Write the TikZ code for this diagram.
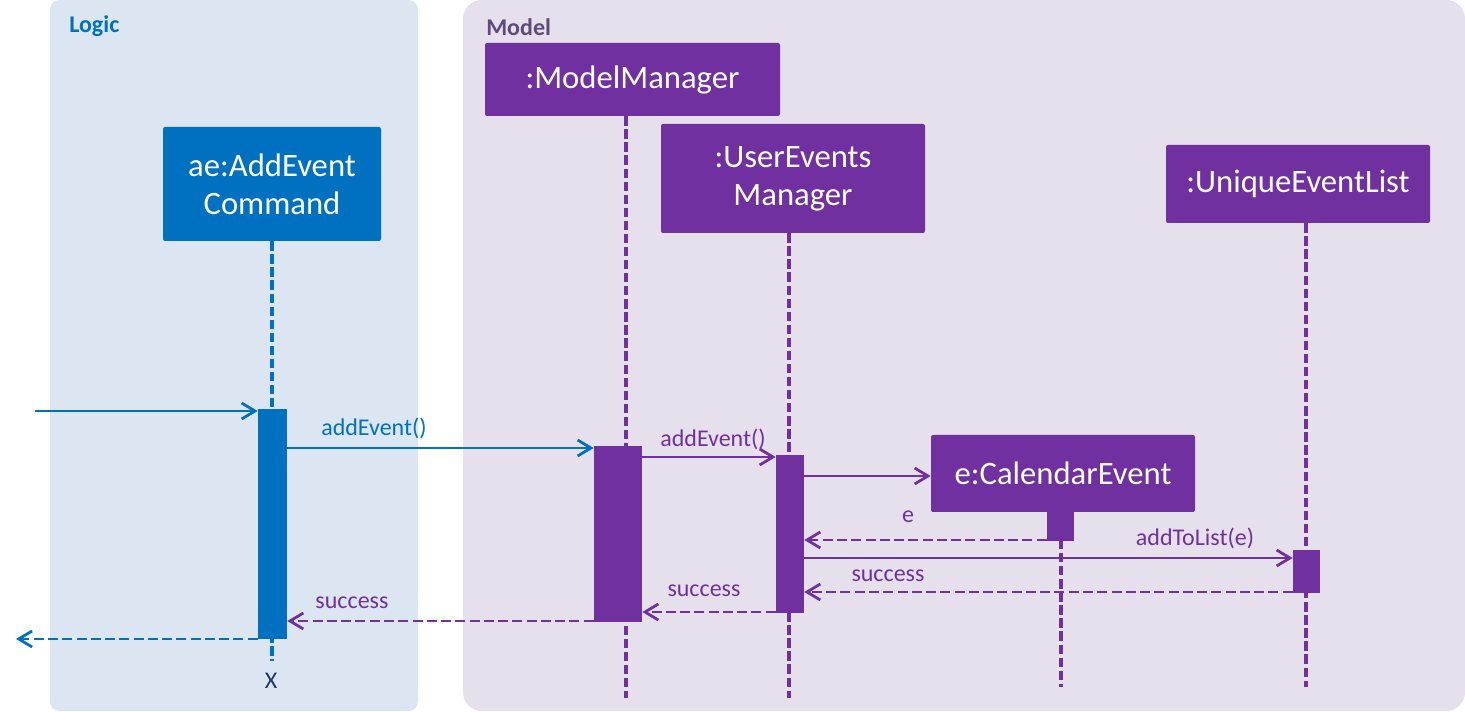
\documentclass[tikz,border=0pt]{standalone}
\usepackage{fontspec}
\setmainfont{Carlito}
\usetikzlibrary{arrows.meta}
\definecolor{cblue}{HTML}{0070C0}
\definecolor{cpurple}{HTML}{7030A0}
\definecolor{logicbg}{HTML}{DCE6F2}
\definecolor{modelbg}{HTML}{E6E0EC}
\definecolor{modeltitle}{HTML}{604A7B}
\definecolor{xcol}{HTML}{1F3864}
\begin{document}
\begin{tikzpicture}[x=0.75pt,y=-0.75pt,
 objbox/.style={draw=none, fill=#1, text=white, rounded corners=1.5pt, font=\fontsize{24.5}{28.5}\selectfont, align=center, inner sep=0pt},
 actbar/.style={fill=#1, draw=none, inner sep=0pt},
 lifeline/.style={draw=#1, line width=2.5pt, dash pattern=on 7pt off 2.8pt},
 msg/.style={draw=#1, line width=2.1pt, -{Straight Barb[length=10pt,width=12pt]}},
 ret/.style={msg=#1, dash pattern=on 7.5pt off 3.2pt},
 lbl/.style={text=#1, font=\fontsize{18}{21}\selectfont, anchor=base, inner sep=0pt},
 title/.style={text=#1, font=\fontsize{18}{21}\selectfont\bfseries, anchor=base west, inner sep=0pt},
]
\useasboundingbox (0,0) rectangle (1465,712);
% panels
\fill[logicbg, rounded corners=7pt] (50,0) rectangle (418,711);
\fill[modelbg, rounded corners=14pt] (463,0) rectangle (1465,711);
\node[title=cblue] (logic) at (69,33) {Logic};
\node[title=modeltitle] (model) at (486,36) {Model};
% objects
\node[objbox=cblue, minimum width=163.5pt, minimum height=85.5pt] (ae) at (272,184) {ae:AddEvent\\Command};
\node[objbox=cpurple, minimum width=221.25pt, minimum height=54.75pt] (mm) at (632.5,79.5) {:ModelManager};
\node[objbox=cpurple, minimum width=198pt, minimum height=81.75pt] (uem) at (793,178.5) {:UserEvents\\Manager};
\node[objbox=cpurple, minimum width=198pt, minimum height=58.5pt] (uel) at (1298,184) {:UniqueEventList};
% lifeline ends
\coordinate (aeend) at (272,661);
\coordinate (mmend) at (626,698);
\coordinate (uemend) at (789,698);
\coordinate (ceend) at (1061,687);
\coordinate (uelend) at (1306,687);
% lifelines
\draw[lifeline=cblue] (ae.south -| aeend) -- (aeend);
\draw[lifeline=cpurple] (mm.south -| mmend) -- (mmend);
\draw[lifeline=cpurple] (uem.south -| uemend) -- (uemend);
\draw[lifeline=cpurple] (uel.south -| uelend) -- (uelend);
\draw[lifeline=cpurple] (1061,540) -- (ceend);
% created object
\node[objbox=cpurple, minimum width=198pt, minimum height=57.75pt] (ce) at (1063,473.5) {e:CalendarEvent};
% activation bars
\node[actbar=cblue, minimum width=21.75pt, minimum height=172.5pt] (aeact) at (272.5,524) {};
\node[actbar=cpurple, minimum width=36pt, minimum height=132pt] (mmact) at (618,534) {};
\node[actbar=cpurple, minimum width=21pt, minimum height=118.5pt] (uemact) at (790,534) {};
\node[actbar=cpurple, minimum width=20.25pt, minimum height=22.5pt] (ceact) at (1060.5,526) {};
\node[actbar=cpurple, minimum width=20.25pt, minimum height=32.25pt] (uelact) at (1306.5,571.5) {};
% messages
\coordinate (start) at (35,411);
\coordinate (finish) at (16,639);
\draw[msg=cblue] (start) -- (aeact.west |- start);
\draw[msg=cblue] (aeact.east |- 0,448) -- (mmact.west |- 0,448);
\draw[msg=cpurple] (mmact.east |- 0,457) -- (uemact.west |- 0,457);
\draw[msg=cpurple] (uemact.east |- 0,476) -- (ce.west |- 0,476);
\draw[ret=cpurple] (ceact.west |- 0,540) -- (uemact.east |- 0,540);
\draw[msg=cpurple] (uemact.east |- 0,558) -- (uelact.west |- 0,558);
\draw[ret=cpurple] (uelact.west |- 0,592) -- (uemact.east |- 0,592);
\draw[ret=cpurple] (uemact.west |- 0,612) -- (mmact.east |- 0,612);
\draw[ret=cpurple] (mmact.west |- 0,621) -- (aeact.east |- 0,621);
\draw[ret=cblue] (aeact.west |- finish) -- (finish);
% labels
\node[lbl=cblue] (l1) at (374,436) {addEvent()};
\node[lbl=cpurple] (l2) at (713,447) {addEvent()};
\node[lbl=cpurple] (l3) at (908,523) {e};
\node[lbl=cpurple] (l4) at (1195,546) {addToList(e)};
\node[lbl=cpurple] (l5) at (888,582) {success};
\node[lbl=cpurple] (l6) at (704,597) {success};
\node[lbl=cpurple] (l7) at (352,609) {success};
\node[lbl=xcol] (xl) at (271,689) {X};
\end{tikzpicture}
\end{document}
